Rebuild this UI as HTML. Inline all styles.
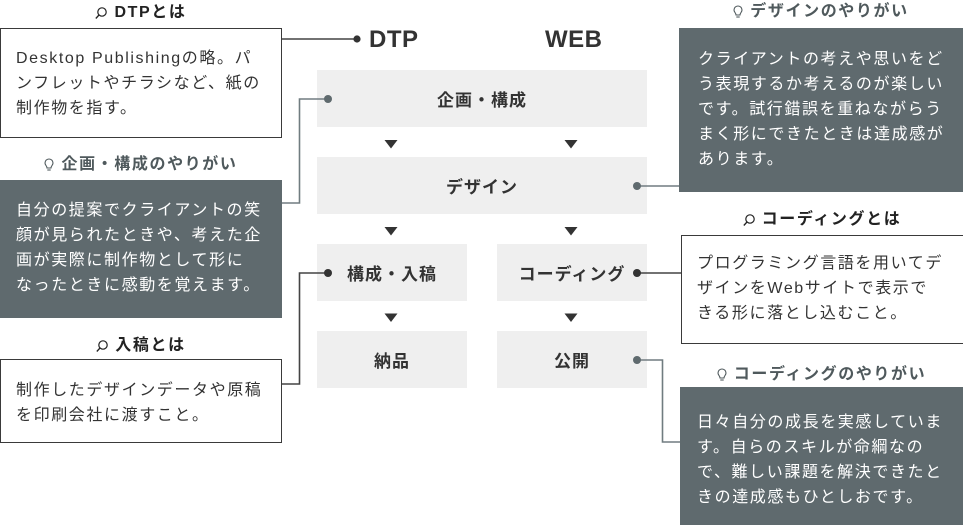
<!DOCTYPE html>
<html>
<head>
<meta charset="utf-8">
<style>
  html,body{margin:0;padding:0;}
  body{width:963px;height:525px;overflow:hidden;background:#fff;position:relative;
       font-family:"Liberation Sans","Noto Sans CJK JP",sans-serif;color:#333;}
  .box{position:absolute;box-sizing:border-box;}
  .wbox{border:1.5px solid #3a3a3a;background:#fff;}
  .dbox{background:#5f6a6e;}
  .gbox{background:#efefef;display:flex;align-items:center;justify-content:center;
        font-weight:bold;font-size:17px;letter-spacing:1px;color:#333;}
  .t{position:absolute;font-size:16px;line-height:25px;letter-spacing:1.6px;white-space:nowrap;}
  .tw{color:#333;}
  .td{color:#fff;}
  .ttl{position:absolute;height:20px;line-height:20px;font-weight:bold;font-size:16px;
       letter-spacing:1.6px;display:flex;justify-content:center;align-items:center;white-space:nowrap;}
  .ttl svg{margin-right:7px;}
  .k{color:#222;}
  .g{color:#4f595c;}
  .big{position:absolute;font-weight:bold;font-size:24px;line-height:24px;color:#333;letter-spacing:0.5px;}
</style>
</head>
<body>

<!-- Titles -->
<div class="ttl k" style="left:0;width:282px;top:3px;">
  <svg width="12" height="13" viewBox="0 0 12 13"><circle cx="7" cy="5" r="4.2" fill="none" stroke="#222" stroke-width="1.2"/><line x1="4" y1="8" x2="0.8" y2="11.5" stroke="#222" stroke-width="1.3"/></svg>DTPとは
</div>
<div class="ttl g" style="left:0;width:282px;top:155px;">
  <svg width="10" height="14" viewBox="0 0 10 14"><path d="M5 1 A4 4 0 0 1 9 5 C9 7 7 8 7 10 L3 10 C3 8 1 7 1 5 A4 4 0 0 1 5 1 Z" fill="none" stroke="#4f595c" stroke-width="1.1"/><line x1="3.3" y1="12" x2="6.7" y2="12" stroke="#4f595c" stroke-width="1.1"/></svg>企画・構成のやりがい
</div>
<div class="ttl k" style="left:0;width:282px;top:336px;">
  <svg width="12" height="13" viewBox="0 0 12 13"><circle cx="7" cy="5" r="4.2" fill="none" stroke="#222" stroke-width="1.2"/><line x1="4" y1="8" x2="0.8" y2="11.5" stroke="#222" stroke-width="1.3"/></svg>入稿とは
</div>
<div class="ttl g" style="left:679px;width:284px;top:2px;">
  <svg width="10" height="14" viewBox="0 0 10 14"><path d="M5 1 A4 4 0 0 1 9 5 C9 7 7 8 7 10 L3 10 C3 8 1 7 1 5 A4 4 0 0 1 5 1 Z" fill="none" stroke="#4f595c" stroke-width="1.1"/><line x1="3.3" y1="12" x2="6.7" y2="12" stroke="#4f595c" stroke-width="1.1"/></svg>デザインのやりがい
</div>
<div class="ttl k" style="left:681px;width:282px;top:210px;">
  <svg width="12" height="13" viewBox="0 0 12 13"><circle cx="7" cy="5" r="4.2" fill="none" stroke="#222" stroke-width="1.2"/><line x1="4" y1="8" x2="0.8" y2="11.5" stroke="#222" stroke-width="1.3"/></svg>コーディングとは
</div>
<div class="ttl g" style="left:680px;width:283px;top:365px;">
  <svg width="10" height="14" viewBox="0 0 10 14"><path d="M5 1 A4 4 0 0 1 9 5 C9 7 7 8 7 10 L3 10 C3 8 1 7 1 5 A4 4 0 0 1 5 1 Z" fill="none" stroke="#4f595c" stroke-width="1.1"/><line x1="3.3" y1="12" x2="6.7" y2="12" stroke="#4f595c" stroke-width="1.1"/></svg>コーディングのやりがい
</div>

<!-- Left boxes -->
<div class="box wbox" style="left:0;top:28px;width:282px;height:110px;"></div>
<div class="t tw" style="left:16px;top:45.5px;">Desktop Publishingの略。パ<br>ンフレットやチラシなど、紙の<br>制作物を指す。</div>

<div class="box dbox" style="left:0;top:180px;width:282px;height:138px;"></div>
<div class="t td" style="left:16px;top:197.5px;">自分の提案でクライアントの笑<br>顔が見られたときや、考えた企<br>画が実際に制作物として形に<br>なったときに感動を覚えます。</div>

<div class="box wbox" style="left:0;top:359px;width:282px;height:84px;"></div>
<div class="t tw" style="left:16px;top:377.5px;">制作したデザインデータや原稿<br>を印刷会社に渡すこと。</div>

<!-- Right boxes -->
<div class="box dbox" style="left:679px;top:28px;width:284px;height:164px;"></div>
<div class="t td" style="left:698px;top:46.5px;">クライアントの考えや思いをど<br>う表現するか考えるのが楽しい<br>です。試行錯誤を重ねながらう<br>まく形にできたときは達成感が<br>あります。</div>

<div class="box wbox" style="left:681px;top:235px;width:290px;height:109px;"></div>
<div class="t tw" style="left:697px;top:250.5px;">プログラミング言語を用いてデ<br>ザインをWebサイトで表示で<br>きる形に落とし込むこと。</div>

<div class="box dbox" style="left:680px;top:387px;width:283px;height:138px;"></div>
<div class="t td" style="left:697px;top:409.5px;">日々自分の成長を実感していま<br>す。自らのスキルが命綱なの<br>で、難しい課題を解決できたと<br>きの達成感もひとしおです。</div>

<!-- Headers -->
<div class="big" style="left:369px;top:28px;">DTP</div>
<div class="big" style="left:545px;top:28px;">WEB</div>

<!-- Gray process boxes -->
<div class="box gbox" style="left:317px;top:70px;width:330px;height:57px;">企画・構成</div>
<div class="box gbox" style="left:317px;top:157px;width:330px;height:57px;">デザイン</div>
<div class="box gbox" style="left:317px;top:244px;width:150px;height:57px;">構成・入稿</div>
<div class="box gbox" style="left:497px;top:244px;width:150px;height:57px;">コーディング</div>
<div class="box gbox" style="left:317px;top:331px;width:150px;height:57px;">納品</div>
<div class="box gbox" style="left:497px;top:331px;width:150px;height:57px;">公開</div>

<!-- Connectors, dots, arrows -->
<svg style="position:absolute;left:0;top:0;" width="963" height="525" viewBox="0 0 963 525">
  <!-- arrows -->
  <g fill="#333">
    <polygon points="384.5,140 397.5,140 391,148.5"/>
    <polygon points="564.5,140 577.5,140 571,148.5"/>
    <polygon points="384.5,227 397.5,227 391,235.5"/>
    <polygon points="564.5,227 577.5,227 571,235.5"/>
    <polygon points="384.5,313.5 397.5,313.5 391,322"/>
    <polygon points="564.5,313.5 577.5,313.5 571,322"/>
  </g>
  <!-- dark connectors -->
  <g fill="none" stroke="#444" stroke-width="1.6">
    <line x1="282" y1="39" x2="357" y2="39"/>
    <polyline points="328,273 299.5,273 299.5,384 282,384"/>
    <line x1="637" y1="273" x2="681" y2="273"/>
  </g>
  <g fill="#333">
    <circle cx="357" cy="39" r="3.6"/>
    <circle cx="328" cy="273" r="4"/>
    <circle cx="637" cy="273" r="4"/>
  </g>
  <!-- gray connectors -->
  <g fill="none" stroke="#707c80" stroke-width="1.6">
    <polyline points="328,99 299.5,99 299.5,203 282,203"/>
    <line x1="637" y1="186" x2="679" y2="186"/>
    <polyline points="637,360 662.5,360 662.5,442 680,442"/>
  </g>
  <g fill="#5f6a6e">
    <circle cx="328" cy="99" r="4"/>
    <circle cx="637" cy="186" r="4"/>
    <circle cx="637" cy="360" r="4"/>
  </g>
</svg>

</body>
</html>
